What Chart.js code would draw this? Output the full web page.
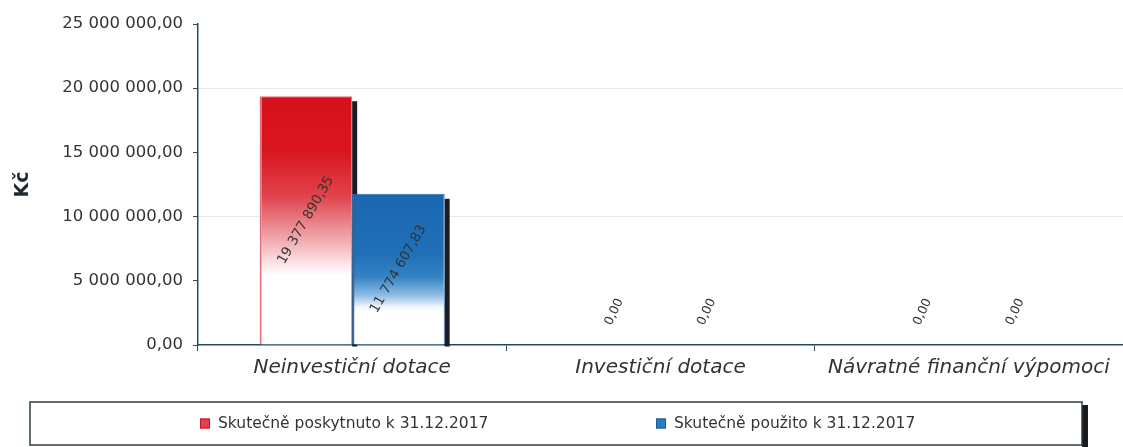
<!DOCTYPE html>
<html><head><meta charset="utf-8">
<script src="https://cdn.jsdelivr.net/npm/chart.js@4/dist/chart.umd.min.js"></script>
<style>html,body{margin:0;padding:0;background:#fff}#wrap{width:1123px;height:447px}</style>
</head><body><div id="wrap"><canvas id="c" width="1123" height="447"></canvas></div>
<script>
const categories = ['Neinvestiční dotace', 'Investiční dotace', 'Návratné finanční výpomoci'];
const poskytnuto = [19377890.35, 0, 0];
const pouzito = [11774607.83, 0, 0];
const seriesNames = ['Skutečně poskytnuto k 31.12.2017', 'Skutečně použito k 31.12.2017'];
const yTicks = [0, 5000000, 10000000, 15000000, 20000000, 25000000];

const FONT = '"DejaVu Sans", "Liberation Sans", Arial, sans-serif';

function fmt(v) {
  const parts = Math.abs(v).toFixed(2).split('.');
  const int = parts[0].replace(/\B(?=(\d{3})+(?!\d))/g, ' ');
  return int + ',' + parts[1];
}

function grad(ctx, stops) {
  const chart = ctx.chart;
  const y = chart.scales && chart.scales.y;
  if (!y || ctx.raw === undefined || !ctx.raw) return stops[0][1];
  const top = y.getPixelForValue(ctx.raw);
  const base = y.getPixelForValue(0);
  if (!isFinite(top) || !isFinite(base) || base - top < 1) return stops[0][1];
  const g = chart.ctx.createLinearGradient(0, top, 0, base);
  stops.forEach(s => g.addColorStop(s[0], s[1]));
  return g;
}
const redStops = [[0, '#d7111b'], [0.22, '#d9161f'], [0.4, '#e0424c'], [0.56, '#eea0a6'], [0.68, '#fde8ea'], [0.72, '#ffffff'], [1, '#ffffff']];
const blueStops = [[0, '#1a67b0'], [0.4, '#2070b8'], [0.55, '#3583c4'], [0.67, '#8dbbe2'], [0.75, '#f2f7fc'], [0.78, '#ffffff'], [1, '#ffffff']];

const shadowPlugin = {
  id: 'shadow',
  beforeDatasetsDraw(chart) {
    const c = chart.ctx;
    c.save();
    c.fillStyle = '#1c1c24';
    chart.data.datasets.forEach((ds, di) => {
      chart.getDatasetMeta(di).data.forEach(el => {
        const h = el.base - el.y;
        if (h < 2) return;
        c.fillRect(el.x + el.width / 2, el.y + 5, 5, h - 3);
      });
    });
    c.restore();
  }
};

const labelPlugin = {
  id: 'barLabels',
  afterDatasetsDraw(chart) {
    const c = chart.ctx;
    c.save();
    c.fillStyle = '#333';
    c.textAlign = 'center';
    c.textBaseline = 'middle';
    chart.data.datasets.forEach((ds, di) => {
      chart.getDatasetMeta(di).data.forEach((el, i) => {
        const v = ds.data[i];
        let y = (el.y + el.base) / 2;
        let ang = -60;
        c.font = '13.5px ' + FONT;
        if (el.base - el.y < 80) { y = el.base - 33; ang = -65; c.font = '12.5px ' + FONT; }
        c.save();
        c.translate(el.x, y);
        c.rotate(ang * Math.PI / 180);
        c.fillText(fmt(v), 0, 0);
        c.restore();
      });
    });
    c.restore();
  }
};

const legendBoxPlugin = {
  id: 'legendBox',
  afterDraw(chart) {
    const c = chart.ctx;
    const top = 402, bottom = 445, left = 30, right = 1082;
    c.save();
    c.fillStyle = '#1a1a1a';
    c.fillRect(right, top + 3, 6, 447 - top);
    c.strokeStyle = '#2b3c46';
    c.lineWidth = 1.5;
    c.strokeRect(left, top, right - left, bottom - top);
    c.font = '15.5px ' + FONT;
    c.textBaseline = 'middle';
    const ym = (top + bottom) / 2;
    const items = [[200, '#e8404a', '#c0161e'], [656, '#2a7cc4', '#1a5a98']];
    chart.data.datasets.forEach((ds, i) => {
      const x = items[i][0];
      c.fillStyle = items[i][1];
      c.fillRect(x, ym - 5, 10, 10);
      c.strokeStyle = items[i][2];
      c.lineWidth = 1;
      c.strokeRect(x + 0.5, ym - 4.5, 9, 9);
      c.fillStyle = '#333';
      c.fillText(ds.label, x + 18, ym);
    });
    c.restore();
  }
};

new Chart(document.getElementById('c'), {
  type: 'bar',
  data: {
    labels: categories,
    datasets: [
      { label: seriesNames[0], data: poskytnuto, backgroundColor: ctx => grad(ctx, redStops), borderColor: '#e07078', borderWidth: {left: 2, right: 1, top: 1, bottom: 0}, borderSkipped: false },
      { label: seriesNames[1], data: pouzito, backgroundColor: ctx => grad(ctx, blueStops), borderColor: '#2a6fb0', borderWidth: {left: 2, right: 1, top: 1, bottom: 0}, borderSkipped: false }
    ]
  },
  plugins: [shadowPlugin, labelPlugin, legendBoxPlugin],
  options: {
    responsive: false,
    animation: false,
    layout: { padding: { left: 12, right: 0, top: 24, bottom: 62 } },
    plugins: { legend: { display: false }, tooltip: { enabled: false } },
    datasets: { bar: { categoryPercentage: 0.6, barPercentage: 1.0 } },
    scales: {
      x: {
        grid: { drawOnChartArea: false, tickLength: 6, color: '#2e4a5c', tickColor: '#2e4a5c' },
        border: { color: '#1f4a62', width: 1.5 },
        ticks: { color: '#333', padding: 5, font: { family: FONT, size: 20, style: 'italic' } },
        afterFit(s) { s.height = 40; }
      },
      y: {
        min: 0, max: 25000000,
        afterBuildTicks(s) { s.ticks = yTicks.map(v => ({ value: v })); },
        grid: {
          color: ctx => (ctx.tick && ctx.tick.value > 0 && ctx.tick.value % 10000000 === 0) ? 'rgba(170,200,215,0.35)' : 'rgba(0,0,0,0)',
          tickColor: '#2e4a5c', tickLength: 5, drawTicks: true
        },
        border: { color: '#1f4a62', width: 1.5, display: true },
        ticks: { color: '#333', padding: 10, font: { family: FONT, size: 16.5 }, callback: v => fmt(v) },
        title: { display: true, text: 'Kč', color: '#1e2a30', padding: { top: 0, bottom: 0 }, font: { family: FONT, size: 19, weight: 'bold' } },
        afterFit(s) { s.width = 186; }
      }
    }
  }
});
</script></body></html>
